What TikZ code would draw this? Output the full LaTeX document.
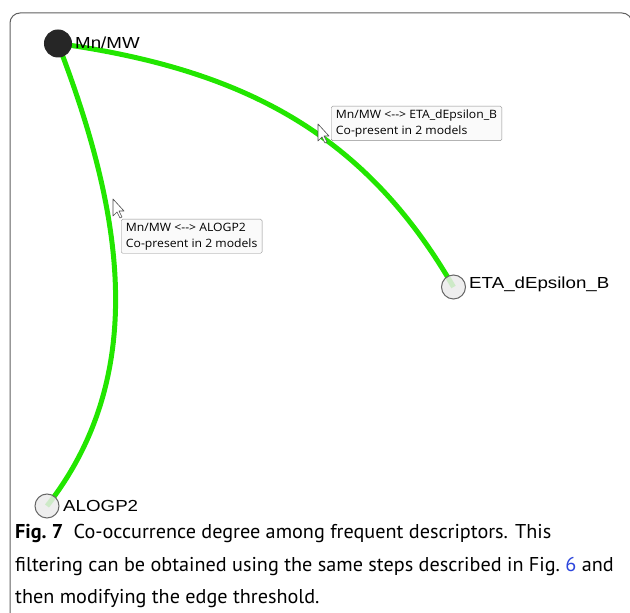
\documentclass[tikz,border=0pt]{standalone}
\usepackage{fontspec}
\setmainfont{PT Sans}
\newfontfamily\labfont{Liberation Sans}
\newfontfamily\tipfont{Open Sans}
\usetikzlibrary{positioning,backgrounds}
\definecolor{edgegreen}{RGB}{34,230,0}
\definecolor{framegray}{RGB}{95,95,95}
\definecolor{figblue}{RGB}{45,70,220}

\begin{document}
\begin{tikzpicture}[x=1pt,y=1pt,
  vtx/.style={circle,draw=black!60,line width=1pt,fill=black!8,fill opacity=.85,minimum size=24pt,inner sep=0pt},
  vlab/.style={anchor=base west,inner sep=0pt,font=\labfont\fontsize{16}{19}\selectfont,xscale=1.17},
  coedge/.style={draw=edgegreen,line width=5pt},
  tipbox/.style={draw=black!45,fill=black!2,rounded corners=1.5pt,anchor=north west,align=left,inner xsep=4.5pt,inner ysep=3.5pt,xscale=1.06,font=\tipfont\fontsize{11.5}{16}\selectfont},
  pointer/.style={fill=white,draw=black!70,line width=.6pt,line join=round},
  caption/.style={anchor=base west,inner sep=0pt,xscale=1.01,font=\fontsize{20}{24}\selectfont}]
\useasboundingbox (0,0) rectangle (630,613);

% descriptors
\node[vtx,fill=black!85,fill opacity=1,draw=black!85,minimum size=27pt] (mn) at (58,569.5) {};
\node[vtx] (eta) at (453.5,326) {};
\node[vtx] (alogp) at (47,107) {};
\node[vlab] (mnlab) at (75,564) {Mn/MW};
\node[vlab] (etalab) at (469,324) {ETA\_dEpsilon\_B};
\node[vlab] (alogplab) at (63,101) {ALOGP2};

% co-occurrence edges
\begin{scope}[on background layer]
\begin{scope}
\clip (0,0) rectangle (630,613);
\draw[framegray,line width=1pt,rounded corners=10pt] (10,-12) rectangle (632,600);
\end{scope}
\draw[coedge] (mn.center) to[out=-8,in=120] (eta.center);
\draw[coedge] (mn.center) to[out=-69,in=52,looseness=.95] (alogp.center);
\end{scope}

% tooltips
\node[tipbox] (tipeta) at (331,507) {Mn/MW <-{}-> ETA\_dEpsilon\_B\\Co-present in 2 models};
\node[tipbox] (tipalogp) at (121,394) {Mn/MW <-{}-> ALOGP2\\Co-present in 2 models};
\draw[pointer] (318,489) -- ++(0,-17) -- ++(4,4) -- ++(3,-6) -- ++(2,1) -- ++(-3,6) -- ++(5,0) -- cycle;
\draw[pointer] (113,414) -- ++(0,-17) -- ++(4,4) -- ++(3,-6) -- ++(2,1) -- ++(-3,6) -- ++(5,0) -- cycle;

% caption
\node[caption] (capa) at (15,74) {\textbf{Fig.~7}\hspace{5pt} Co-occurrence degree among frequent descriptors. This};
\node[caption] (capb) at (15,41) {filtering can be obtained using the same steps described in Fig.~\textcolor{figblue}{6} and};
\node[caption] (capc) at (15,9) {then modifying the edge threshold.};
\end{tikzpicture}
\end{document}
